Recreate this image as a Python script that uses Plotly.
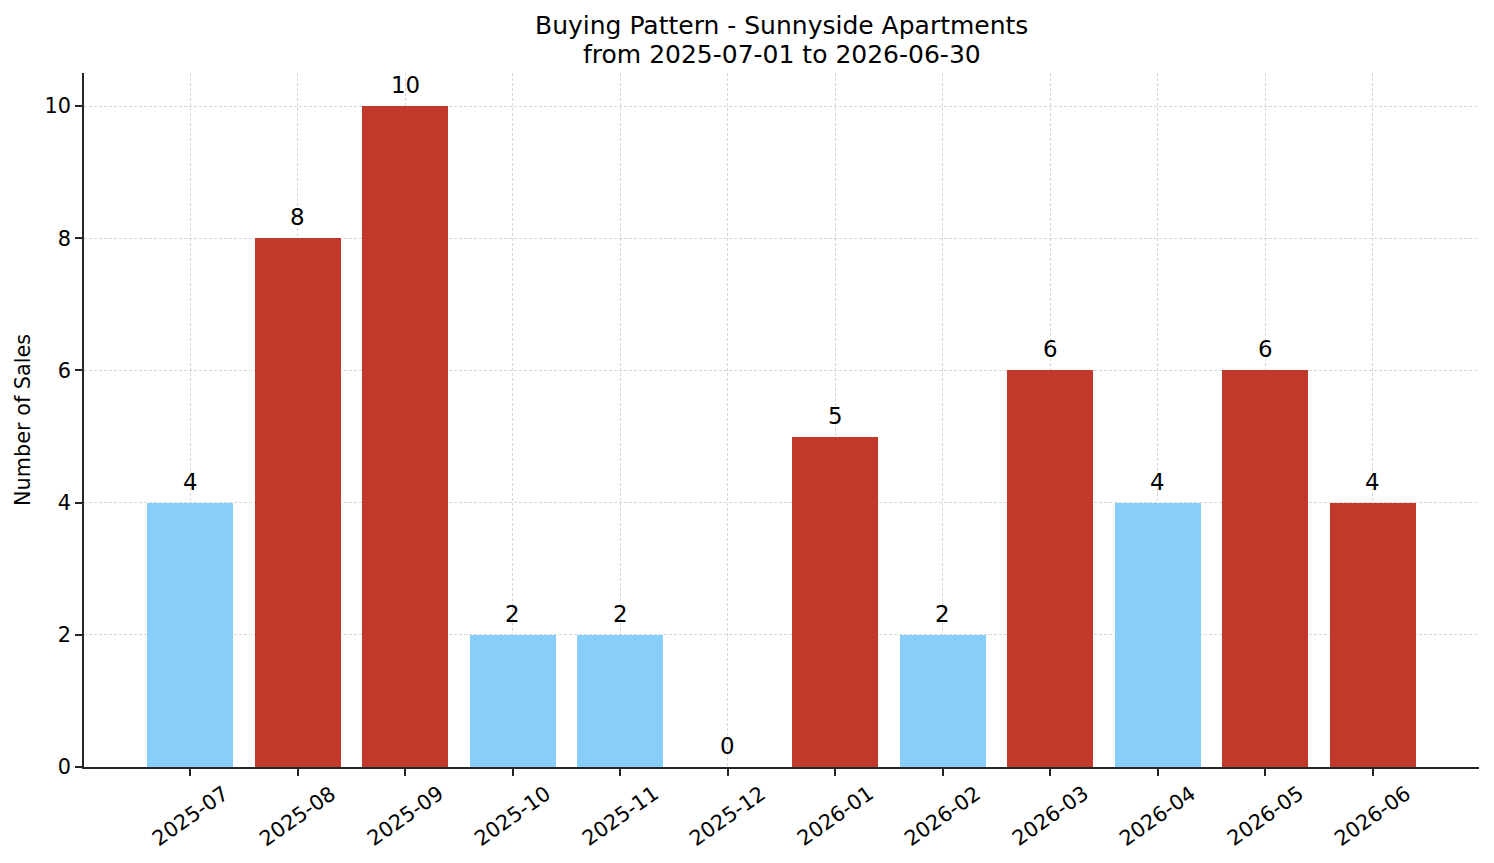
import plotly.graph_objects as go

months = ["2025-07", "2025-08", "2025-09", "2025-10", "2025-11", "2025-12",
          "2026-01", "2026-02", "2026-03", "2026-04", "2026-05", "2026-06"]
sales = [4, 8, 10, 2, 2, 0, 5, 2, 6, 4, 6, 4]
bar_colors = ["#87CEFA", "#C0392B", "#C0392B", "#87CEFA", "#87CEFA", "#87CEFA",
              "#C0392B", "#87CEFA", "#C0392B", "#87CEFA", "#C0392B", "#C0392B"]
y_ticks = [0, 2, 4, 6, 8, 10]
title_lines = ["Buying Pattern - Sunnyside Apartments", "from 2025-07-01 to 2026-06-30"]

FONT = "DejaVu Sans"
TICK = 20.8
GRID = "rgba(175,175,175,0.5)"
x_idx = list(range(len(months)))

fig = go.Figure()
fig.add_trace(go.Bar(
    x=x_idx, y=sales, width=0.8,
    marker=dict(color=bar_colors, line=dict(width=0)),
))

annotations = []
for i, m in enumerate(months):
    annotations.append(dict(
        x=i, xref="x", y=0, yref="paper", yshift=-49,
        text=m, textangle=-35, showarrow=False,
        xanchor="center", yanchor="middle",
        font=dict(family=FONT, size=TICK, color="#000000"),
    ))
for i, v in enumerate(sales):
    annotations.append(dict(
        x=i, xref="x", y=v, yref="y", yshift=6,
        text=str(v), showarrow=False,
        xanchor="center", yanchor="bottom",
        font=dict(family=FONT, size=22.9, color="#000000"),
    ))
annotations.append(dict(
    x=0, xref="paper", xshift=-61, y=0.5, yref="paper",
    text="Number of Sales", textangle=-90, showarrow=False,
    xanchor="center", yanchor="middle",
    font=dict(family=FONT, size=TICK, color="#000000"),
))
for k, (line, shift) in enumerate(zip(title_lines, [48, 18.5])):
    annotations.append(dict(
        x=0.5, xref="paper", y=1, yref="paper", yshift=shift,
        text=line, showarrow=False, xanchor="center", yanchor="middle",
        font=dict(family=FONT, size=25, color="#000000"),
    ))

fig.update_layout(
    width=1494, height=863,
    margin=dict(l=84, r=15, t=73, b=96, pad=0),
    paper_bgcolor="white", plot_bgcolor="white",
    showlegend=False,
    font=dict(family=FONT, size=TICK, color="#000000"),
    annotations=annotations,
    xaxis=dict(
        range=[-0.99, 11.99], tickmode="array", tickvals=x_idx,
        showticklabels=False, ticks="outside", ticklen=7, tickwidth=1.6,
        tickcolor="#262626",
        showline=True, linecolor="#262626", linewidth=1.6,
        showgrid=True, gridcolor=GRID, griddash="3px,2px", gridwidth=1,
        zeroline=False, layer="above traces",
    ),
    yaxis=dict(
        range=[0, 10.5], tickmode="array", tickvals=y_ticks,
        ticktext=[str(v) for v in y_ticks],
        ticks="outside", ticklen=7, tickwidth=1.6, tickcolor="#262626",
        ticklabelstandoff=0,
        showline=True, linecolor="#262626", linewidth=1.6,
        showgrid=True, gridcolor=GRID, griddash="3px,2px", gridwidth=1,
        zeroline=False, layer="above traces",
        tickfont=dict(family=FONT, size=TICK, color="#000000"),
    ),
    bargap=0,
)

fig.write_html("out.html")
